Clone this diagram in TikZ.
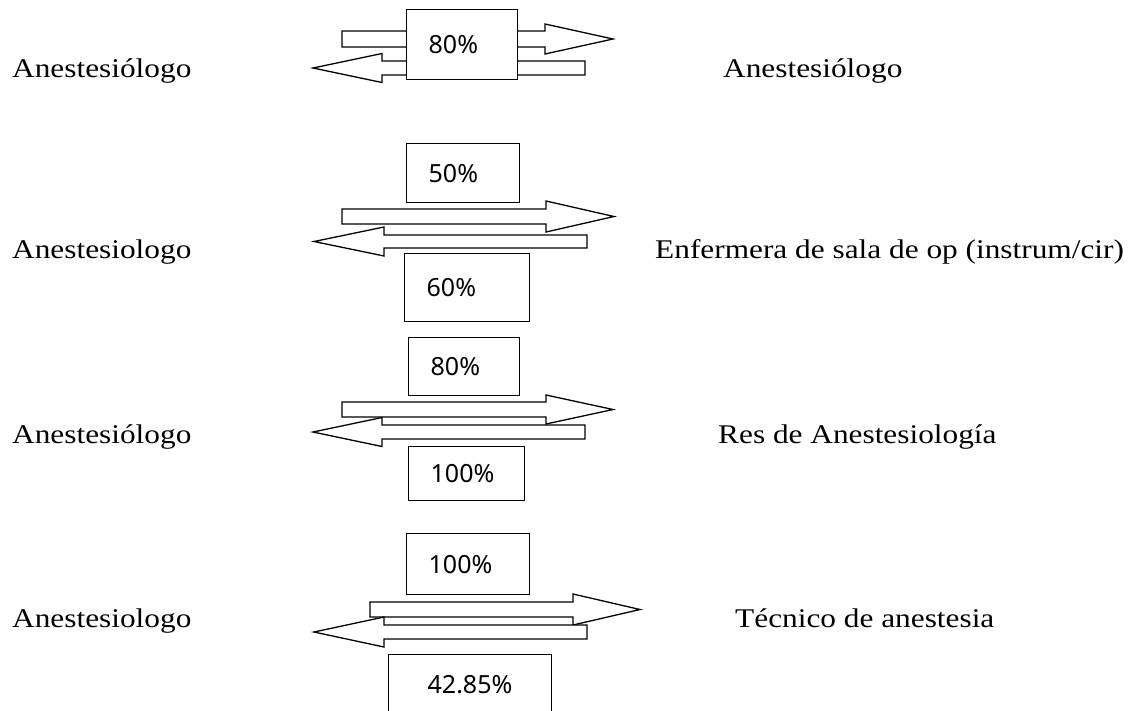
\documentclass[tikz,border=0pt]{standalone}
\usepackage{fontspec}
\usepackage{tikz}
\usetikzlibrary{positioning}

\newfontfamily\roleface{Liberation Serif}
\newfontfamily\pctface{Noto Sans}

% block arrow: back x, head base x, tip x, centre y, half shaft, half head
\newcommand{\blockarrow}[6]{%
  \draw[barrow] (#1,#4-#5) -- (#2,#4-#5) -- (#2,#4-#6) -- (#3,#4)
    -- (#2,#4+#6) -- (#2,#4+#5) -- (#1,#4+#5) -- cycle;}

\begin{document}
\begin{tikzpicture}[
  x=1pt, y=-1pt,
  role/.style={anchor=base west, inner sep=0pt, font={\roleface\fontsize{27}{30}\selectfont}},
  pct/.style={draw, fill=white, line width=1.3pt, anchor=north west, align=left,
              inner xsep=22pt, inner ysep=0pt, font={\pctface\fontsize{25}{28}\selectfont}},
  barrow/.style={draw, fill=white, line width=1.3pt, line join=miter}
]
\useasboundingbox (0,0) rectangle (1145,710);
\clip (0,0) rectangle (1145,710);

% Row 1
\blockarrow{342}{545}{613}{39}{8}{15}
\blockarrow{585}{382}{313}{68}{7}{14.5}
\node[pct, text width=67pt, minimum height=70pt] (p1) at (406,9) {80\%};
\node[role] (l1) at (12,77) {\scalebox{1.16}[1]{Anestesiólogo}};
\node[role] (r1) at (723,77) {\scalebox{1.16}[1]{Anestesiólogo}};

% Row 2
\node[pct, text width=69pt, minimum height=59pt] (p2a) at (406,143) {50\%};
\blockarrow{342}{546}{614}{216.5}{7.5}{15.5}
\blockarrow{587}{384}{314}{241.5}{6.5}{14.5}
\node[pct, text width=81pt, minimum height=68pt] (p2b) at (404,253) {60\%};
\node[role] (l2) at (12,258) {\scalebox{1.16}[1]{Anestesiologo}};
\node[role] (r2) at (655,258) {\scalebox{1.16}[1]{Enfermera de sala de op (instrum/cir)}};

% Row 3
\node[pct, text width=67pt, minimum height=58pt] (p3a) at (408,337) {80\%};
\blockarrow{342}{546}{613}{409.5}{7.5}{14.5}
\blockarrow{585}{382}{313}{432}{7}{14.5}
\node[pct, text width=72pt, minimum height=54pt] (p3b) at (408,446) {100\%};
\node[role] (l3) at (12,443) {\scalebox{1.16}[1]{Anestesiólogo}};
\node[role] (r3) at (718,443) {\scalebox{1.16}[1]{Res de Anestesiología}};

% Row 4
\node[pct, text width=79pt, minimum height=61pt] (p4a) at (406,533) {100\%};
\blockarrow{370}{573}{640}{609.5}{7.5}{15.5}
\blockarrow{587}{384}{314}{632}{7}{15}
\node[pct, inner xsep=39pt, text width=85pt, minimum height=60pt] (p4b) at (388,654) {42.85\%};
\node[role] (l4) at (12,627) {\scalebox{1.16}[1]{Anestesiologo}};
\node[role] (r4) at (735,627) {\scalebox{1.16}[1]{Técnico de anestesia}};

\end{tikzpicture}
\end{document}
